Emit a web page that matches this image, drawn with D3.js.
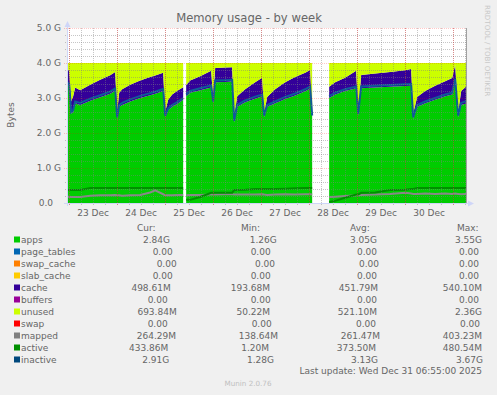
<!DOCTYPE html>
<html>
<head>
<meta charset="utf-8">
<script src="https://cdn.jsdelivr.net/npm/d3@7"></script>
<style>
  body { margin: 0; background: #f0f0f0; }
  text { font-family: "DejaVu Sans", sans-serif; fill: #666; }
</style>
</head>
<body>
<svg id="chart" width="497" height="395"></svg>
<script>
// sample times, hours since 2025-12-23 00:00 (null rows = no data)
var hours = [-1, 0, 1, 2, 3, 5.5, 10.5, 15.5, 20.5, 23, 24, 25, 26.5, 30.5, 35.5, 40.5, 43, 47, 48, 49.5, 51.5, 54.5, 57, 57.7,
  58.5, 60.5, 65.5, 71, 72, 73, 78, 81.5, 82.5, 84, 88, 93, 96.5, 97.5, 99, 103, 108, 113, 118, 120.5, 121.5, 125,
  130, 133, 138, 143.5, 144.5, 146, 153, 160.5, 168, 171, 172, 174, 178, 183, 188, 191.5, 193, 194.5, 196, 198.5]

// values in G
var apps = [3.40, 3.35, 2.55, 2.60, 2.85, 2.80, 2.92, 3.02, 3.12, 3.21, 2.40, 2.75, 2.80, 2.90, 3.00, 3.08, 3.12, 3.20, 2.45, 2.65, 2.75, 2.85, 2.95, null,
  3.05, 3.15, 3.22, 3.30, 2.85, 3.45, 3.46, 3.47, 2.30, 2.75, 2.88, 2.98, 3.05, 2.45, 2.75, 2.85, 2.97, 3.07, 3.19, 3.27, 2.45, null,
  3.00, 3.10, 3.20, 3.28, 2.50, 3.28, 3.30, 3.32, 3.34, 3.35, 2.40, 2.75, 2.85, 2.95, 3.05, 3.10, 3.50, 2.45, 2.80, 2.84]
var cache = [.45, .42, .35, .45, .45, .42, .46, .50, .53, .53, .20, .40, .45, .48, .50, .52, .52, .52, .15, .30, .35, .37, .36, null,
  .32, .35, .40, .48, .10, .41, .41, .41, .15, .30, .37, .47, .53, .10, .28, .40, .48, .53, .53, .53, .15, null,
  .32, .35, .38, .50, .10, .38, .40, .42, .45, .48, .15, .28, .35, .40, .43, .47, .45, .15, .40, .49]
var unused = [.15, .23, 1.10, .95, .70, .78, .62, .48, .35, .26, 1.40, .85, .75, .62, .50, .40, .36, .28, 1.40, 1.05, .90, .78, .69, null,
  .63, .50, .38, .22, 1.05, .14, .13, .12, 1.55, .95, .75, .55, .42, 1.45, .97, .75, .55, .40, .28, .20, 1.40, null,
  .68, .55, .42, .22, 1.40, .34, .30, .26, .21, .17, 1.45, .97, .80, .65, .52, .43, .05, 1.40, .80, .67]
var inactive = [3.45, 3.40, 2.60, 2.66, 2.90, 2.86, 2.98, 3.08, 3.18, 3.27, 2.45, 2.80, 2.86, 2.96, 3.06, 3.14, 3.18, 3.26, 2.50, 2.70, 2.80, 2.90, 3.00, null,
  3.10, 3.20, 3.28, 3.36, 2.90, 3.50, 3.51, 3.52, 2.35, 2.80, 2.93, 3.04, 3.10, 2.50, 2.80, 2.90, 3.03, 3.13, 3.25, 3.33, 2.50, null,
  3.05, 3.15, 3.25, 3.33, 2.55, 3.33, 3.35, 3.37, 3.39, 3.40, 2.45, 2.80, 2.90, 3.00, 3.10, 3.15, 3.55, 2.50, 2.86, 2.91]
var mapped = [.18, .18, .17, .17, .17, .17, .21, .22, .22, .23, .22, .22, .21, .22, .23, .30, .36, .25, .22, .22, .22, .23, .23, null,
  .22, .23, .23, .24, .24, .24, .25, .25, .24, .24, .24, .24, .25, .24, .23, .24, .25, .24, .25, .25, .24, null,
  .17, .18, .20, .22, .22, .23, .24, .26, .29, .27, .26, .26, .27, .26, .27, .26, .27, .26, .25, .26]
var active = [.37, .37, .37, .37, .37, .37, .43, .43, .43, .43, .43, .43, .43, .43, .43, .43, .43, .43, .43, .43, .43, .43, .43, null,
  .09, .09, .17, .29, .29, .29, .29, .29, .37, .37, .38, .40, .40, .40, .40, .40, .41, .42, .43, .43, .43, null,
  .03, .06, .15, .24, .24, .29, .30, .37, .38, .40, .40, .43, .43, .43, .43, .43, .43, .43, .43, .43]

var yTicks = [0, 1, 2, 3, 4, 5]
var yTickLabels = ['0.0', '1.0 G', '2.0 G', '3.0 G', '4.0 G', '5.0 G']

var legendNames = ['apps', 'page_tables', 'swap_cache', 'slab_cache', 'cache', 'buffers', 'unused', 'swap', 'mapped', 'active', 'inactive']
var legendColors = ['#00cc00', '#0066b3', '#ff8000', '#ffcc00', '#330099', '#990099', '#ccff00', '#ff0000', '#808080', '#008f00', '#00487d']
var curVals = ['2.84G', '0.00', '0.00', '0.00', '498.61M', '0.00', '693.84M', '0.00', '264.29M', '433.86M', '2.91G']
var minVals = ['1.26G', '0.00', '0.00', '0.00', '193.68M', '0.00', '50.22M', '0.00', '138.64M', '1.20M', '1.28G']
var avgVals = ['3.05G', '0.00', '0.00', '0.00', '451.79M', '0.00', '521.10M', '0.00', '261.47M', '373.50M', '3.13G']
var maxVals = ['3.55G', '0.00', '0.00', '0.00', '540.10M', '0.00', '2.36G', '0.00', '403.23M', '480.54M', '3.67G']

var svg = d3.select('#chart')
var W = 497, H = 395
var plotL = 67, plotR = 467, plotT = 28, plotB = 203

var t0 = Date.UTC(2025, 11, 23)
var x = d3.scaleUtc()
  .domain([new Date(Date.UTC(2025, 11, 22, 22, 55)), new Date(Date.UTC(2025, 11, 31, 6, 55))])
  .range([plotL, plotR])
var y = d3.scaleLinear().domain([0, 5]).range([plotB, plotT])

var rows = hours.map(function (h, i) {
  return { t: new Date(t0 + h * 3600e3), apps: apps[i], cache: cache[i], unused: unused[i],
    inactive: inactive[i], mapped: mapped[i], active: active[i] }
})

svg.append('rect').attr('width', W).attr('height', H).attr('fill', '#f0f0f0')
svg.append('rect').attr('x', plotL).attr('y', plotT).attr('width', plotR - plotL).attr('height', plotB - plotT).attr('fill', '#fff')

svg.append('defs').append('clipPath').attr('id', 'plot')
  .append('rect').attr('x', plotL).attr('y', plotT).attr('width', plotR - plotL - 0.5).attr('height', plotB - plotT)

var g = svg.append('g').attr('clip-path', 'url(#plot)')

// stacked areas
var series = d3.stack().keys(['apps', 'cache', 'unused'])(rows)
var fills = { apps: '#00cc00', cache: '#330099', unused: '#ccff00' }
var area = d3.area()
  .defined(function (d) { return d.data.apps != null })
  .x(function (d) { return x(d.data.t) })
  .y0(function (d) { return y(d[0]) })
  .y1(function (d) { return y(d[1]) })
g.selectAll('path.area').data(series).enter().append('path')
  .attr('class', 'area')
  .attr('fill', function (s) { return fills[s.key] })
  .attr('d', area)

// lines
function drawLine (key, color) {
  var line = d3.line()
    .defined(function (d) { return d[key] != null })
    .x(function (d) { return x(d.t) })
    .y(function (d) { return y(d[key]) })
  g.append('path').datum(rows).attr('fill', 'none').attr('stroke', color)
    .attr('stroke-width', 2).attr('d', line)
}
drawLine('mapped', '#888888')
drawLine('active', '#008f00')
drawLine('inactive', '#0f5a99')

// grid on top
var grid = svg.append('g').attr('fill', 'none')
var minorY = d3.range(1, 25).map(function (i) { return i * 0.2 }).filter(function (v) { return Math.abs(v - Math.round(v)) > 0.01 })
grid.selectAll('line.my').data(minorY).enter().append('line')
  .attr('x1', plotL - 2).attr('x2', plotR - 1)
  .attr('y1', function (d) { return Math.round(y(d)) + 0.5 }).attr('y2', function (d) { return Math.round(y(d)) + 0.5 })
  .attr('stroke', 'rgba(128,128,128,0.45)').attr('stroke-dasharray', '1,1')
var minorX = d3.utcHour.every(6).range(x.domain()[0], x.domain()[1])
grid.selectAll('line.mx').data(minorX).enter().append('line')
  .attr('x1', function (d) { return Math.round(x(d)) + 0.5 }).attr('x2', function (d) { return Math.round(x(d)) + 0.5 })
  .attr('y1', plotT).attr('y2', plotB + 2)
  .attr('stroke', 'rgba(128,128,128,0.45)').attr('stroke-dasharray', '1,1')
grid.selectAll('line.My').data(yTicks.slice(1)).enter().append('line')
  .attr('x1', plotL - 3).attr('x2', plotR + 1)
  .attr('y1', function (d) { return Math.round(y(d)) + 0.5 }).attr('y2', function (d) { return Math.round(y(d)) + 0.5 })
  .attr('stroke', 'rgba(255,0,0,0.22)').attr('stroke-dasharray', '1,1')
var majorX = d3.utcDay.range(x.domain()[0], x.domain()[1])
grid.selectAll('line.Mx').data(majorX).enter().append('line')
  .attr('x1', function (d) { return Math.round(x(d)) + 0.5 }).attr('x2', function (d) { return Math.round(x(d)) + 0.5 })
  .attr('y1', plotT).attr('y2', plotB + 3)
  .attr('stroke', 'rgba(255,0,0,0.3)').attr('stroke-dasharray', '1,1')

// right border and axes
svg.append('line').attr('x1', plotR - 0.5).attr('x2', plotR - 0.5).attr('y1', plotT).attr('y2', plotB)
  .attr('stroke', '#a0a0a0')
svg.append('line').attr('x1', plotL + 0.5).attr('x2', plotL + 0.5).attr('y1', plotB + 3).attr('y2', plotT - 4)
  .attr('stroke', '#cfd6f8')
svg.append('line').attr('x1', plotL - 3).attr('x2', plotR + 3).attr('y1', plotB + 0.5).attr('y2', plotB + 0.5)
  .attr('stroke', '#cfd6f8')
svg.append('path').attr('d', 'M64.5,27L70.5,27L67.5,21Z').attr('fill', '#cfd6f8')
svg.append('path').attr('d', 'M468,200.5L468,206.5L474,203.5Z').attr('fill', '#cfd6f8')

// y tick labels
svg.selectAll('text.yt').data(yTicks).enter().append('text')
  .attr('x', function (d) { return d === 0 ? 53 : 61 })
  .attr('y', function (d) { return y(d) })
  .attr('dy', '0.35em').attr('text-anchor', 'end').attr('font-size', 9)
  .text(function (d, i) { return yTickLabels[i] })

// x tick labels at noon
var noons = d3.utcDay.range(new Date(t0), new Date(Date.UTC(2025, 11, 31))).map(function (d) { return d3.utcHour.offset(d, 12) })
var fmt = d3.utcFormat('%-d %b')
svg.selectAll('text.xt').data(noons).enter().append('text')
  .attr('x', function (d) { return x(d) })
  .attr('y', 213).attr('dy', '0.35em').attr('text-anchor', 'middle').attr('font-size', 9)
  .text(function (d) { return fmt(d) })

svg.append('text').attr('x', 249).attr('y', 22).attr('text-anchor', 'middle').attr('font-size', 11.6)
  .text('Memory usage - by week')
svg.append('text').attr('transform', 'translate(11,115) rotate(-90)').attr('dy', '0.35em')
  .attr('text-anchor', 'middle').attr('font-size', 9).text('Bytes')
svg.append('text').attr('transform', 'translate(487,5) rotate(90)').attr('dy', '0.35em')
  .attr('font-size', 7.1).style('fill', '#c8c8c8').text('RRDTOOL / TOBI OETIKER')

// legend
var rowY = function (i) { return 240 + i * 12 }
var headers = [['Cur:', 137], ['Min:', 241], ['Avg:', 350], ['Max:', 457]]
svg.selectAll('text.hd').data(headers).enter().append('text')
  .attr('x', function (d) { return d[1] }).attr('y', 228).attr('dy', '0.35em').attr('font-size', 9)
  .text(function (d) { return d[0] })

var curRight = [170, 172.7, 176.7, 172.7, 170.7, 167.7, 176.7, 167.7, 176, 168.3, 169.3]
var minRight = [276.7, 270.7, 275, 270.7, 270, 270.7, 270, 271.7, 278, 269, 274]
var avgRight = [377, 377, 379, 377, 378, 377, 377, 376, 380, 376, 378]
var maxRight = [482, 479, 479, 479, 482, 479, 482, 480, 482, 482, 483]

legendNames.forEach(function (name, i) {
  svg.append('rect').attr('x', 14).attr('y', rowY(i) - 3.5).attr('width', 6).attr('height', 6)
    .attr('fill', legendColors[i])
  svg.append('text').attr('x', 21).attr('y', rowY(i)).attr('dy', '0.35em').attr('font-size', 9).text(name)
  var cols = [[curVals, curRight], [minVals, minRight], [avgVals, avgRight], [maxVals, maxRight]]
  cols.forEach(function (c) {
    svg.append('text').attr('x', c[1][i]).attr('y', rowY(i)).attr('dy', '0.35em')
      .attr('text-anchor', 'end').attr('font-size', 9).text(c[0][i])
  })
})

svg.append('text').attr('x', 482).attr('y', 371).attr('dy', '0.35em').attr('text-anchor', 'end')
  .attr('font-size', 9).text('Last update: Wed Dec 31 06:55:00 2025')
svg.append('text').attr('x', 248).attr('y', 383).attr('dy', '0.35em').attr('text-anchor', 'middle')
  .attr('font-size', 7.2).style('fill', '#c0c0c0').text('Munin 2.0.76')
</script>
</body>
</html>
